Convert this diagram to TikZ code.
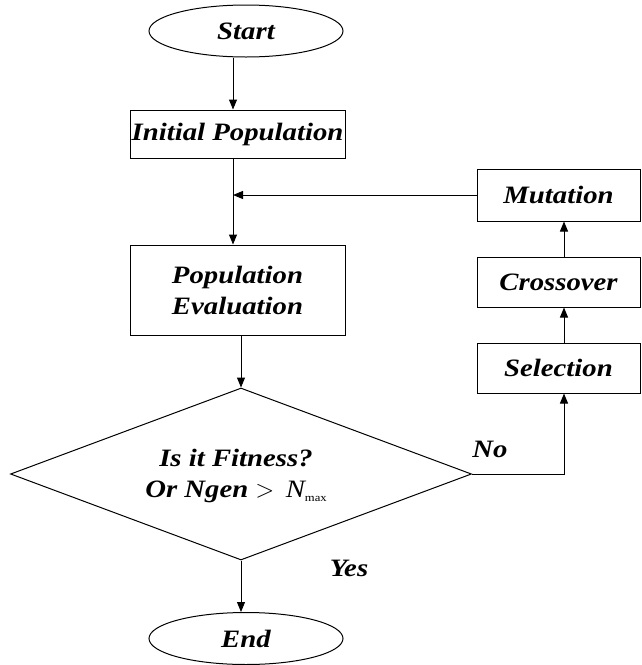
\documentclass[tikz,border=0pt]{standalone}
\usepackage{fontspec}
\setmainfont{Liberation Serif}[FakeStretch=1.15]
\usetikzlibrary{shapes.geometric,arrows.meta,calc}
\begin{document}
\begin{tikzpicture}[x=1pt,y=-1pt,
  lbl/.style={font=\fontsize{25}{31}\selectfont\bfseries\itshape},
  term/.style={ellipse,draw,line width=1pt,minimum width=194pt,minimum height=52pt,inner sep=0pt,lbl},
  proc/.style={rectangle,draw,line width=1pt,inner sep=0pt,lbl,align=center},
  dec/.style={diamond,draw,line width=1pt,minimum width=461pt,minimum height=172pt,inner sep=0pt},
  arr/.style={-{Triangle[length=10pt,width=8pt]},line width=1pt}]
\useasboundingbox (0,0) rectangle (641,665);
\node[term] (start) at (246,31) {Start};
\node[proc,minimum width=215pt,minimum height=48pt] (ip) at (237.5,134) {Initial Population};
\node[proc,minimum width=215pt,minimum height=90pt] (pe) at (237.5,290) {Population\\Evaluation};
\node[dec] (dia) at (241,474) {};
\node[lbl,align=center,inner sep=0pt] (diatext) at (236,476) {Is it Fitness?\\Or Ngen {\mdseries$>$}\, {\mdseries\itshape N}\raisebox{-4pt}{\mdseries\upshape\fontsize{11}{11}\selectfont max}};
\node[term] (end) at (246,638.5) {End};
\node[proc,minimum width=163pt,minimum height=52pt] (mut) at (558.5,195) {Mutation};
\node[proc,minimum width=163pt,minimum height=50pt] (cro) at (558.5,282) {Crossover};
\node[proc,minimum width=163pt,minimum height=50pt] (sel) at (558.5,368) {Selection};
\coordinate (colA) at (233,0);
\coordinate (colB) at (564,0);
\draw[arr] (start.south -| colA) -- (ip.north -| colA);
\draw[arr] (ip.south -| colA) -- (pe.north -| colA);
\draw[arr] (mut.west) -- (mut.west -| colA);
\draw[arr] (pe.south -| dia.north) -- (dia.north);
\draw[arr] (dia.south) -- (dia.south |- end.north);
\draw[arr] (dia.east) -- (dia.east -| colB) -- (sel.south -| colB);
\draw[arr] (sel.north -| colB) -- (cro.south -| colB);
\draw[arr] (cro.north -| colB) -- (mut.south -| colB);
\node[lbl] (no) at (490,449) {No};
\node[lbl] (yes) at (349,568) {Yes};
\end{tikzpicture}
\end{document}
